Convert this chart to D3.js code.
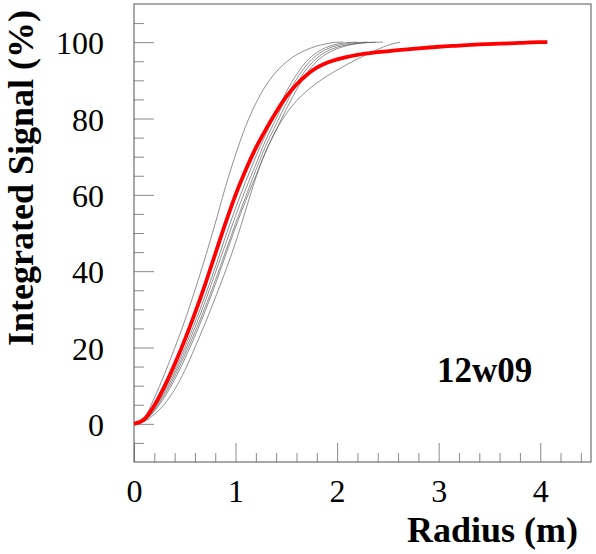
<!DOCTYPE html>
<html>
<head>
<meta charset="utf-8">
<script src="https://cdn.jsdelivr.net/npm/d3@7"></script>
<style>
  body { margin: 0; background: #fff; }
  svg { display: block; }
  svg text { font-family: "Liberation Serif", "Times New Roman", Times, "DejaVu Serif", serif; }
</style>
</head>
<body>
<div id="chart"></div>
<script>
// radius grid (m) and integrated signal (%)
const redR = [0, 0.1, 0.2, 0.3, 0.4, 0.5, 0.6, 0.7, 0.8, 0.9, 1.0, 1.1, 1.2, 1.3, 1.4, 1.5, 1.6, 1.7, 1.8, 1.9, 2.0, 2.2, 2.4, 2.6, 2.8, 3.0, 3.2, 3.4, 3.6, 3.8, 4.0, 4.07];
const redV = [0, 1.2, 4.8, 9.8, 15.6, 22, 29, 36.5, 44.5, 52.5, 60, 66.5, 72.3, 77.2, 81.7, 85.7, 88.9, 91.4, 93.3, 94.6, 95.5, 96.7, 97.4, 97.9, 98.4, 98.8, 99.1, 99.4, 99.6, 99.8, 100, 100];

// individual runs (thin black)
const runA_R = [0, 0.1, 0.2, 0.3, 0.4, 0.5, 0.6, 0.7, 0.8, 0.9, 1.0, 1.1, 1.2, 1.3, 1.4, 1.5, 1.6, 1.7, 1.8, 1.9, 2.0, 2.06];
const runA_V = [0, 1.5, 6.8, 13, 19.8, 27, 35, 43.5, 52.5, 62, 70.5, 78, 84, 88.7, 92.2, 94.8, 96.7, 98, 99, 99.6, 100, 100];
const runB_R = [0, 0.1, 0.2, 0.3, 0.4, 0.5, 0.6, 0.7, 0.8, 0.9, 1.0, 1.1, 1.2, 1.3, 1.4, 1.5, 1.6, 1.7, 1.8, 1.9, 2.0, 2.1, 2.2];
const runB_V = [0, 1, 4.3, 8.8, 14, 20, 26.5, 33.5, 41, 49, 56.5, 63.5, 70, 76, 81.5, 87, 91.5, 95, 97.3, 98.7, 99.5, 99.9, 100];
const runC_R = [0, 0.1, 0.2, 0.3, 0.4, 0.5, 0.6, 0.7, 0.8, 0.9, 1.0, 1.1, 1.2, 1.3, 1.4, 1.5, 1.6, 1.7, 1.8, 1.9, 2.0, 2.1, 2.2, 2.3];
const runC_V = [0, 0.9, 4, 8.2, 13.2, 19, 25.2, 32, 39.5, 47, 54.5, 61.5, 68, 74.5, 80, 85.5, 90.3, 94, 96.6, 98.2, 99.1, 99.6, 99.9, 100];
const runD_R = [0, 0.1, 0.2, 0.3, 0.4, 0.5, 0.6, 0.7, 0.8, 0.9, 1.0, 1.1, 1.2, 1.3, 1.4, 1.5, 1.6, 1.7, 1.8, 1.9, 2.0, 2.1, 2.2, 2.3, 2.38];
const runD_V = [0, 0.8, 3.6, 7.6, 12.4, 18, 24, 30.5, 37.5, 45, 52.5, 59.5, 66.5, 73, 78.5, 84, 89, 93, 95.8, 97.6, 98.7, 99.3, 99.7, 99.9, 100];
const runE_R = [0, 0.1, 0.2, 0.3, 0.4, 0.5, 0.6, 0.7, 0.8, 0.9, 1.0, 1.1, 1.2, 1.3, 1.4, 1.5, 1.6, 1.7, 1.8, 1.9, 2.0, 2.1, 2.2, 2.3, 2.45];
const runE_V = [0, 0.7, 3.3, 7, 11.6, 17, 23, 29.5, 36.5, 44, 51.5, 58.5, 65, 71.5, 77, 82.5, 87.5, 91.8, 95, 97, 98.3, 99.1, 99.6, 99.9, 100];
const runG_R = [0, 0.1, 0.2, 0.3, 0.4, 0.5, 0.6, 0.7, 0.8, 0.9, 1.0, 1.1, 1.2, 1.3, 1.4, 1.5, 1.6, 1.7, 1.8, 1.9, 2.0, 2.1, 2.2, 2.3, 2.4, 2.5, 2.62];
const runG_V = [0, 0.6, 2.5, 5.2, 9, 14, 20, 26.3, 33, 40, 47.5, 56, 64.5, 71.5, 77, 81.3, 84.6, 87.2, 89.3, 91.1, 92.7, 94.2, 95.6, 96.9, 98.1, 99.2, 100];

const xMajor = [0, 1, 2, 3, 4];
const yMajor = [0, 20, 40, 60, 80, 100];
const runLabel = "12w09";

// General Variables
const width = 596, height = 554;
const frame = { left: 134, right: 591, top: 4, bottom: 462 };

let chart = d3.select("#chart").append("svg")
	.attr("width", width)
	.attr("height", height);

// scales
let x = d3.scaleLinear().domain([0, 4.5]).range([frame.left, frame.right]);
let y = d3.scaleLinear().domain([-10, 110]).range([frame.bottom, frame.top]);

// minor tick values
const xMinor = d3.range(0, 4.5, 0.2).filter(v => Math.abs(v - Math.round(v)) > 1e-6);
const yMinor = d3.range(-5, 110, 5).filter(v => v % 20 !== 0);

function styleAxis(sel) {
	sel.select(".domain").remove();
	sel.selectAll("line").attr("stroke", "#8a8a8a").attr("stroke-width", 1);
	sel.attr("font-family", null).attr("font-size", 32);
	sel.selectAll("text").attr("fill", "#000");
}

// Y Axis (ticks inside the frame)
chart.append("g")
	.attr("transform", "translate(" + frame.left + ",0)")
	.call(d3.axisLeft(y).tickValues(yMajor).tickSize(-20).tickPadding(30))
	.call(styleAxis)
	.selectAll("text").attr("dy", "0.36em");

chart.append("g")
	.attr("transform", "translate(" + frame.left + ",0)")
	.call(d3.axisLeft(y).tickValues(yMinor).tickSize(-10).tickFormat(""))
	.call(styleAxis);

// X Axis
chart.append("g")
	.attr("transform", "translate(0," + frame.bottom + ")")
	.call(d3.axisBottom(x).tickValues(xMajor).tickSize(-19).tickPadding(17).tickFormat(d3.format("d")))
	.call(styleAxis);

chart.append("g")
	.attr("transform", "translate(0," + frame.bottom + ")")
	.call(d3.axisBottom(x).tickValues(xMinor).tickSize(-9).tickFormat(""))
	.call(styleAxis);

// frame
chart.append("rect")
	.attr("x", frame.left)
	.attr("y", frame.top)
	.attr("width", frame.right - frame.left)
	.attr("height", frame.bottom - frame.top)
	.attr("fill", "none")
	.attr("stroke", "#555")
	.attr("stroke-width", 1);

// curves
let line = d3.line()
	.x(d => x(d[0]))
	.y(d => y(d[1]))
	.curve(d3.curveMonotoneX);

const runs = [
	[runA_R, runA_V], [runB_R, runB_V], [runC_R, runC_V],
	[runD_R, runD_V], [runE_R, runE_V], [runG_R, runG_V]
];

chart.append("g")
	.selectAll("path")
	.data(runs).enter()
	.append("path")
	.attr("d", d => line(d3.zip(d[0], d[1])))
	.attr("fill", "none")
	.attr("stroke", "#444")
	.attr("stroke-width", 0.6);

chart.append("path")
	.attr("d", line(d3.zip(redR, redV)))
	.attr("fill", "none")
	.attr("stroke", "#ff0000")
	.attr("stroke-width", 3.8)
	.attr("stroke-linejoin", "round");

// axis titles
chart.append("text")
	.attr("transform", "translate(33,10) rotate(-90)")
	.attr("text-anchor", "end")
	.attr("font-weight", "bold")
	.attr("font-size", 36)
	.text("Integrated Signal (%)");

chart.append("text")
	.attr("x", 578)
	.attr("y", 542)
	.attr("text-anchor", "end")
	.attr("font-weight", "bold")
	.attr("font-size", 36)
	.text("Radius (m)");

// run label
chart.append("text")
	.attr("x", 437)
	.attr("y", 382)
	.attr("font-weight", "bold")
	.attr("font-size", 35)
	.text(runLabel);
</script>
</body>
</html>
